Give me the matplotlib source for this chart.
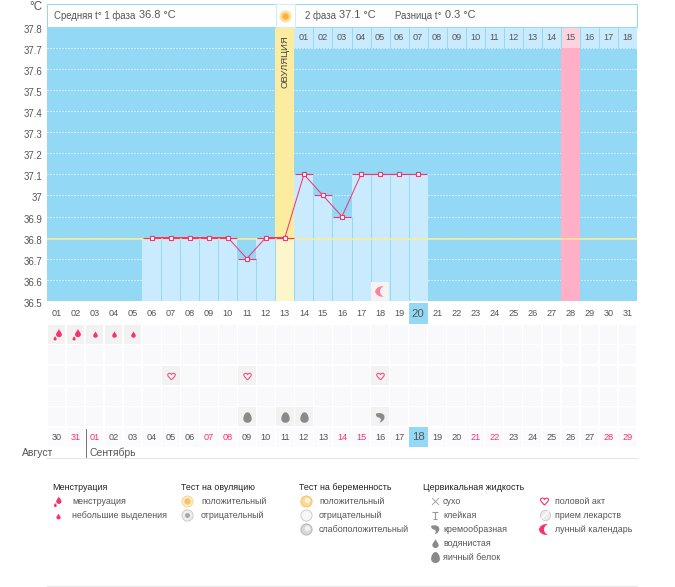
import matplotlib
matplotlib.use("Agg")
import matplotlib.pyplot as plt
import numpy as np
from matplotlib.path import Path
from matplotlib.patches import Rectangle
from matplotlib.transforms import ScaledTranslation, Affine2D

plt.rcParams['font.family'] = ['Liberation Sans', 'DejaVu Sans']

# ---------- data ----------
days = list(range(1, 32))
temp_days = [6, 7, 8, 9, 10, 11, 12, 13, 14, 15, 16, 17, 18, 19, 20]
temps = [36.8, 36.8, 36.8, 36.8, 36.8, 36.7, 36.8, 36.8, 37.1, 37.0, 36.9, 37.1, 37.1, 37.1, 37.1]
y_ticks = [36.5, 36.6, 36.7, 36.8, 36.9, 37.0, 37.1, 37.2, 37.3, 37.4, 37.5, 37.6, 37.7, 37.8]
y_labels = ['36.5', '36.6', '36.7', '36.8', '36.9', '37', '37.1', '37.2', '37.3', '37.4', '37.5', '37.6', '37.7', '37.8']
mean_temp = 36.8
ovulation_day = 13
cycle_days = list(range(14, 32))
cycle_labels = ['%02d' % i for i in range(1, 19)]
period_day = 28
today = 20
calendar_labels = ['30', '31', '01', '02', '03', '04', '05', '06', '07', '08', '09', '10', '11', '12', '13', '14',
                   '15', '16', '17', '18', '19', '20', '21', '22', '23', '24', '25', '26', '27', '28', '29']
weekend_labels = {'31', '01', '07', '08', '14', '15', '21', '22', '28', '29'}
heavy_days = [1, 2]
light_days = [3, 4, 5]
intercourse_days = [7, 11, 18]
eggwhite_days = [11, 13, 14]
creamy_days = [18]
moon_days = [18]

W, H = 675, 587
BLUE = '#93d8f5'
PALE = '#c9ebfd'
RED = '#f5336c'
GREY = '#8a8a8a'
TXT = '#555555'
FS = 6.4
NUM = 6.6

fig = plt.figure(figsize=(W / 100, H / 100), dpi=100, facecolor='white')
def box(x0, y0, x1, y1, **kw):
    return fig.add_axes([x0 / W, 1 - y1 / H, (x1 - x0) / W, (y1 - y0) / H], **kw)

# ---------- marker shapes ----------
M, L, C, Z = Path.MOVETO, Path.LINETO, Path.CURVE4, Path.CLOSEPOLY
DROP = Path([(0, 1), (.15, .5), (.7, .1), (.7, -.35), (.7, -.8), (.3, -1), (0, -1), (-.3, -1), (-.7, -.8), (-.7, -.35),
             (-.7, .1), (-.15, .5), (0, 1), (0, 1)], [M, C, C, C, C, C, C, C, C, C, C, C, C, Z])
EGG = Path([(0, 1), (.45, 1), (.8, .3), (.8, -.25), (.8, -.75), (.4, -1), (0, -1), (-.4, -1), (-.8, -.75), (-.8, -.25),
            (-.8, .3), (-.45, 1), (0, 1), (0, 1)], [M, C, C, C, C, C, C, C, C, C, C, C, C, Z])
HEART = Path([(0, -.9), (-.5, -.35), (-1, .05), (-1, .45), (-1, .95), (-.25, 1), (0, .5), (.25, 1), (1, .95), (1, .45),
              (1, .05), (.5, -.35), (0, -.9)], [M, C, C, C, C, C, C, C, C, C, C, C, C])
MOON = Path([(.6, 1), (-.2, 1.1), (-1, .6), (-1, 0), (-1, -.6), (-.2, -1.1), (.6, -1), (.1, -.7), (-.1, -.35), (-.1, 0),
             (-.1, .35), (.1, .7), (.6, 1), (.6, 1)], [M, C, C, C, C, C, C, C, C, C, C, C, C, Z])
COMMA = Path([(-.9, .75), (-.3, 1.05), (.8, .9), (.8, .1), (.8, -.5), (.3, -.9), (-.2, -1), (.15, -.6), (.1, -.25), (-.15, -.05),
              (-.6, -.05), (-1, .3), (-.9, .75), (-.9, .75)], [M, C, C, C, C, C, C, C, C, C, C, C, C, Z])
CROSS = Path([(-1, -1), (1, 1), (-1, 1), (1, -1)], [M, L, M, L])
SLIDE = Path([(-.8, 1), (.8, 1), (0, 1), (0, -1), (-.6, -1), (.6, -1)], [M, L, M, L, M, L])
PAIR = Path.make_compound_path(DROP.transformed(Affine2D().scale(.62).translate(.22, .22)),
                               DROP.transformed(Affine2D().scale(.34).translate(-.36, -.56)))

def mark(ax, xs, ys, path, size_px, color, zorder=6, **kw):
    ax.plot(xs, ys, ls='none', marker=path, ms=size_px * .72, mfc=color, mec=kw.pop('mec', color),
            mew=kw.pop('mew', 0), zorder=zorder, **kw)

# ---------- main temperature chart ----------
ax = box(47, 27.3, 637, 300.6)
ax.set_facecolor(BLUE)
ax.set_xlim(.5, 31.5)
ax.set_ylim(36.5, 37.8)
for s in ax.spines.values():
    s.set_visible(False)
ax.set_xticks([])
ax.set_yticks(y_ticks)
ax.set_yticklabels(y_labels, fontsize=6.9, color=TXT)
ax.tick_params(axis='y', length=0, pad=3.2)
shift = ScaledTranslation(0, -2 / 100, fig.dpi_scale_trans)
for lb in ax.get_yticklabels():
    lb.set_transform(lb.get_transform() + shift)
ax.set_axisbelow(True)
ax.grid(axis='y', color='white', lw=.72, linestyle=(0, (1, 2)))

ax.axvspan(period_day - .5, period_day + .5, color='#ffb0c6', lw=0, zorder=1)
ax.axvspan(ovulation_day - .5, ovulation_day + .5, ymin=(mean_temp - 36.5) / 1.3, color='#fcec9f', lw=0, zorder=1)

strip_colors = ['#fdd3e0' if d == period_day else PALE for d in cycle_days]
ax.bar(cycle_days, [.1] * len(cycle_days), bottom=37.7, width=1, color=strip_colors, lw=0, zorder=2)
ax.vlines([d - .5 for d in cycle_days[1:]], 37.7, 37.8, color=BLUE, lw=.72, zorder=3)
for d, t_ in zip(cycle_days, cycle_labels):
    ax.text(d, 37.75, t_, ha='center', va='center', fontsize=NUM, color=TXT, zorder=5)

bar_colors = ['#fdf6cc' if d == ovulation_day else PALE for d in temp_days]
ax.bar(temp_days, [t_ - 36.5 for t_ in temps], bottom=36.5, width=1, color=bar_colors, lw=0, zorder=2)
ax.vlines([d + .5 for d in temp_days[:-1]], 36.5, [min(a, b) for a, b in zip(temps[:-1], temps[1:])],
          color=BLUE, lw=.72, zorder=3)
ax.bar(moon_days, [.09], bottom=36.5, width=.95, color='#f3f3f3', lw=0, zorder=3)
mark(ax, moon_days, [36.545], MOON, 11.5, '#fb7fa2', zorder=4)

yshift = ax.transData + ScaledTranslation(0, -1 / 100, fig.dpi_scale_trans)
ax.plot([.5, 31.5], [mean_temp, mean_temp], color='#fdeb96', lw=1.1, transform=yshift, zorder=3)
ax.text(ovulation_day, 37.76, 'ОВУЛЯЦИЯ', rotation=90, ha='center', va='top', fontsize=6.8, color='#444444', zorder=5)
seg = ax.hlines(temps, [d - .48 for d in temp_days], [d + .48 for d in temp_days], color=RED, lw=.8, zorder=4)
seg.set_snap(True)
ax.plot(temp_days, temps, color=RED, lw=.72, marker='s', ms=3.1, mfc='white', mec=RED, mew=.8, zorder=5)

# ---------- calendar rows ----------
low = box(47, 303.2, 637, 447.9)
low.set_xlim(.5, 31.5)
low.set_ylim(6.5, -.5)
low.axis('off')
for r in range(1, 6):
    low.bar(days, [.92] * 31, bottom=r - .46, width=.93, color='#f9f9fb', lw=0, zorder=1)
low.bar(days, [.92] * 31, bottom=5.54, width=.93, color='#fbfbfd', lw=0, zorder=1)

def active(ds, r):
    low.bar(ds, [.92] * len(ds), bottom=r - .46, width=.93, color='#f2f2f2', lw=0, zorder=2)
active(heavy_days + light_days, 1)
active(intercourse_days, 3)
active(eggwhite_days + creamy_days, 5)
mark(low, heavy_days, [1] * len(heavy_days), PAIR, 12, RED)
mark(low, light_days, [1] * len(light_days), DROP, 6.5, RED)
mark(low, intercourse_days, [3] * len(intercourse_days), HEART, 7.5, 'none', mec='#f5508a', mew=.8)
mark(low, eggwhite_days, [5] * len(eggwhite_days), EGG, 10.5, GREY)
mark(low, creamy_days, [5] * len(creamy_days), COMMA, 10.5, GREY)

low.bar([today, today], [1, .95], bottom=[-.5, 5.5], width=1, color=BLUE, lw=0, zorder=2)
for d in days:
    low.text(d, 0, '%02d' % d, ha='center', va='center', fontsize=8.2 if d == today else NUM,
             color=TXT, zorder=5)
for d, t_ in zip(days, calendar_labels):
    c = RED if t_ in weekend_labels else TXT
    low.text(d, 6 - (.05 if d == today else 0), t_, ha='center', va='center', fontsize=8.2 if d == today else NUM,
             color=c, zorder=5)

# ---------- page furniture in pixels ----------
ov = fig.add_axes([0, 0, 1, 1], facecolor='none')
ov.set_xlim(0, W)
ov.set_ylim(H, 0)
ov.axis('off')
ov.add_patch(Rectangle((47, 3.5), 590, 23.5, fc='white', ec=BLUE, lw=.72))
ov.add_patch(Rectangle((275.5, 3.5), 19, 23.5, fc='white', ec='#cdeefb', lw=.72))
ov.plot([285], [16], marker='o', ms=8, mfc='#fdd98a', mec='#fde8b8', mew=1)
ov.plot([285], [16], marker='o', ms=4.5, mfc='#fbb040', mew=0)
ov.text(29, 7.5, '°C', fontsize=8.4, color=TXT, va='center')

def t(x, y, s, fs=FS, c=TXT):
    ov.text(x, y, s, fontsize=fs, color=c, va='center', ha='left')
t(54, 16, 'Средняя t° 1 фаза', 6.9)
t(139, 15.5, '36.8 °C', 7.9)
t(305, 16, '2 фаза', 6.9)
t(339, 15.5, '37.1 °C', 7.9)
t(395, 16, 'Разница t°', 6.9)
t(445, 15.5, '0.3 °C', 7.9)
t(22, 453, 'Август', 7.5)
t(90, 453, 'Сентябрь', 7.5)
ov.plot([85.5, 85.5], [429, 458], color='#777777', lw=.72)
ov.plot([47, 637], [458, 458], color='#e8e8e8', lw=.9)
ov.plot([47, 637], [586, 586], color='#e8e8e8', lw=.9)

# ---------- legend ----------
HEAD = '#222222'
t(52, 487, 'Менструация', FS, HEAD)
t(181, 487, 'Тест на овуляцию', FS, HEAD)
t(299, 487, 'Тест на беременность', FS, HEAD)
t(423, 487, 'Цервикальная жидкость', FS, HEAD)

mark(ov, [57], [501], PAIR, 11, RED)
t(72, 501, 'менструация')
mark(ov, [57.5], [515.5], DROP, 6, RED)
t(72, 515, 'небольшие выделения')

ov.plot([187], [501], marker='o', ms=8, mfc='#fdeec8', mec='#f2d9a2', mew=.7)
ov.plot([187], [501], marker='o', ms=4.6, mfc='#f9c263', mew=0)
t(201, 501, 'положительный')
ov.plot([187], [515], marker='o', ms=8, mfc='#eeeeee', mec='#cccccc', mew=.7)
ov.plot([187], [515], marker='o', ms=3.6, mfc='#a8a8a8', mew=0)
t(201, 515, 'отрицательный')

ov.plot([306], [501], marker='o', ms=8, mfc='#fbd98e', mec='#f4c670', mew=.7)
ov.plot([307], [500], marker='o', ms=4, mfc='#fdf3dc', mew=0)
t(319, 501, 'положительный')
ov.plot([306], [515], marker='o', ms=8, mfc='#f6f6f6', mec='#cfcfcf', mew=.7)
t(319, 515, 'отрицательный')
ov.plot([306], [529], marker='o', ms=8, mfc='#d8d8d8', mec='#b5b5b5', mew=.7)
ov.plot([307], [528], marker='o', ms=4, mfc='#f2f2f2', mew=0)
t(319, 529, 'слабоположительный')

mark(ov, [435], [501], CROSS, 7, 'none', mec='#999999', mew=.6)
t(443, 501, 'сухо')
mark(ov, [435], [515], SLIDE, 7, 'none', mec='#999999', mew=.8)
t(443, 515, 'клейкая')
mark(ov, [435], [529], COMMA, 10, GREY)
t(443, 529, 'кремообразная')
mark(ov, [435], [543], DROP, 9, GREY)
t(443, 543, 'водянистая')
mark(ov, [435], [557], EGG, 11, GREY)
t(443, 557, 'яичный белок')

mark(ov, [544], [501], HEART, 8, 'none', mec=RED, mew=.8)
t(555, 501, 'половой акт')
ov.plot([545], [515], marker='o', ms=7.4, mfc='#ececec', mec='#c8c8c8', mew=.6)
ov.plot([541.5, 548.5], [518.5, 511.5], color='white', lw=.9)
t(555, 515, 'прием лекарств')
mark(ov, [544], [529], MOON, 12, RED)
t(555, 529, 'лунный календарь')

fig.savefig('out.png', dpi=100, facecolor='white')
